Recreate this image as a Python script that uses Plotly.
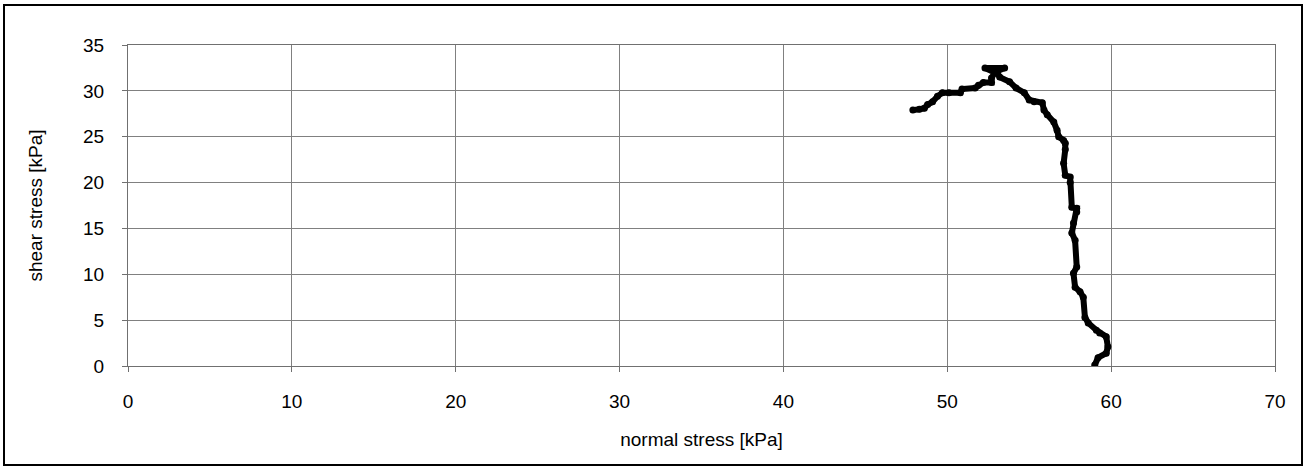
import plotly.graph_objects as go

normal_stress = [59.0, 59.2, 59.7, 59.8, 59.7, 59.3, 59.1, 58.6, 58.4, 58.3, 58.1, 57.8, 57.7, 57.9,
                 57.8, 57.6, 57.7, 57.9, 57.9, 57.6, 57.5, 57.5, 57.2, 57.1, 57.2, 57.2, 57.1, 56.8,
                 56.7, 56.5, 56.1, 55.9, 55.8, 55.3, 55.0, 54.7, 54.2, 53.8, 53.2, 53.0, 53.5, 52.3,
                 52.9, 52.7, 52.7, 52.2, 51.9, 51.7, 50.9, 50.8, 50.1, 49.7, 49.4, 49.1, 48.8, 48.6,
                 48.3, 47.9]
shear_stress = [0.1, 0.9, 1.4, 2.1, 3.2, 3.6, 3.9, 4.7, 5.3, 7.5, 8.1, 8.6, 10.1, 10.8,
                13.7, 14.5, 15.6, 16.8, 17.2, 17.3, 20.0, 20.6, 20.8, 22.1, 23.6, 24.3, 24.6, 25.0,
                25.7, 26.6, 27.4, 27.9, 28.7, 28.8, 29.0, 29.8, 30.3, 31.0, 31.5, 32.1, 32.5, 32.5,
                32.0, 31.4, 30.9, 30.9, 30.6, 30.3, 30.2, 29.8, 29.8, 29.8, 29.4, 28.8, 28.5, 28.1,
                28.0, 27.9]

x_ticks = [0, 10, 20, 30, 40, 50, 60, 70]
y_ticks = [0, 5, 10, 15, 20, 25, 30, 35]

fig = go.Figure()
fig.add_trace(go.Scatter(x=normal_stress, y=shear_stress, mode="lines+markers",
                         line=dict(color="black", width=6),
                         marker=dict(color="black", size=7),
                         showlegend=False))

L, R, T, B = 128, 30, 45, 102
W, H = 1305, 468
pw, ph = W - L - R, H - T - B

def px(x):
    return (x - L) / pw

def py(y):
    return (H - B - y) / ph

fig.add_shape(type="rect", xref="paper", yref="paper",
              x0=px(4), x1=px(1302), y0=py(465), y1=py(5),
              line=dict(color="black", width=2), fillcolor="rgba(0,0,0,0)", layer="below")

FONT = "Liberation Sans, Arial"
axis_common = dict(showgrid=True, gridcolor="#808080", gridwidth=1,
                   showline=True, linecolor="#707070", linewidth=1, mirror=True,
                   ticks="outside", ticklen=5, tickcolor="#707070",
                   zeroline=False,
                   tickfont=dict(family=FONT, size=19, color="black"),
                   title_font=dict(family=FONT, size=19, color="black"))

fig.update_xaxes(range=[0, 70], tickvals=x_ticks, title_text="normal stress [kPa]",
                 ticklabelstandoff=13, title_standoff=21, **axis_common)
fig.update_yaxes(range=[0, 35], tickvals=y_ticks, title_text="shear stress [kPa]",
                 ticklabelstandoff=14, title_standoff=35, **axis_common)

fig.update_layout(width=W, height=H, margin=dict(l=L, r=R, t=T, b=B),
                  paper_bgcolor="white", plot_bgcolor="white")

fig.write_html("out.html", config={"displayModeBar": False},
               post_script="document.body.style.margin='0';")
